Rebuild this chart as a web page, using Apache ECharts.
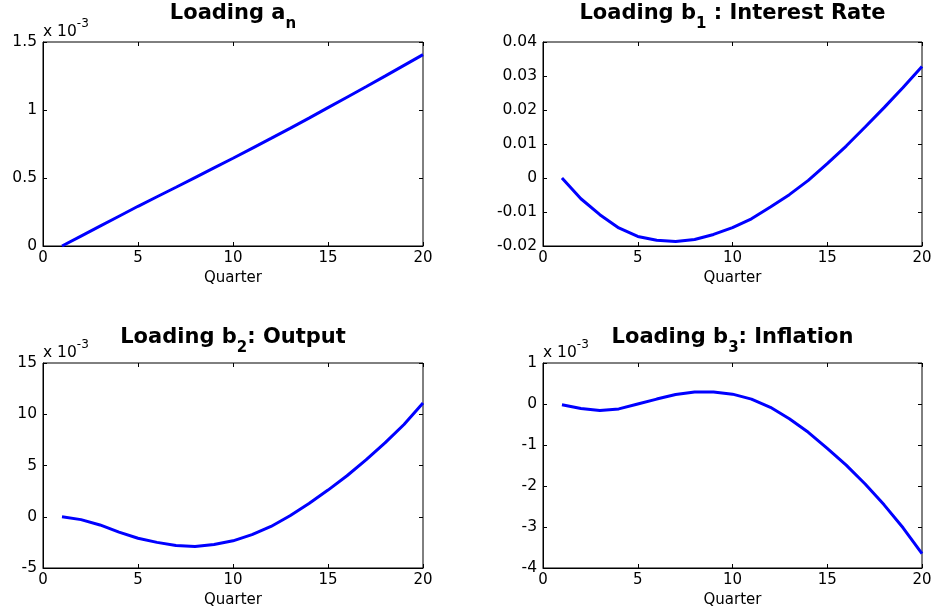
<!DOCTYPE html>
<html><head><meta charset="utf-8">
<script src="https://cdn.jsdelivr.net/npm/echarts@6/dist/echarts.min.js"></script>
<style>html,body{margin:0;padding:0;background:#fff}#c{width:935px;height:615px}</style>
</head><body><div id="c"></div>
<script>
// ---- data ----
const quarters = [1,2,3,4,5,6,7,8,9,10,11,12,13,14,15,16,17,18,19,20];
// Loading a_n (units of 10^-3)
const loadingA  = [0,0.073,0.146,0.219,0.292,0.362,0.432,0.503,0.574,0.645,0.718,0.791,0.865,0.940,1.017,1.094,1.171,1.249,1.328,1.407];
// Loading b1 : Interest Rate
const loadingB1 = [0,-0.0061,-0.0108,-0.0147,-0.0172,-0.0183,-0.0187,-0.0181,-0.0166,-0.0146,-0.0120,-0.0085,-0.0049,-0.0007,0.0042,0.0094,0.0150,0.0207,0.0266,0.0328];
// Loading b2 : Output (units of 10^-3)
const loadingB2 = [0,-0.28,-0.8,-1.5,-2.1,-2.5,-2.8,-2.9,-2.7,-2.35,-1.75,-0.95,0.1,1.3,2.6,4.0,5.55,7.2,9.0,11.1];
// Loading b3 : Inflation (units of 10^-3)
const loadingB3 = [-0.02,-0.11,-0.16,-0.12,0,0.12,0.23,0.29,0.29,0.24,0.12,-0.08,-0.36,-0.69,-1.08,-1.49,-1.95,-2.46,-3.02,-3.65];

const xRange = {min:0, max:20, interval:5};
const yRanges = [
  {min:0, max:1.5, interval:0.5},
  {min:-0.02, max:0.04, interval:0.01},
  {min:-5, max:15, interval:5},
  {min:-4, max:1, interval:1}
];
const titleMain = ['Loading a', 'Loading b', 'Loading b', 'Loading b'];
const titleSub  = ['n', '1', '2', '3'];
const titleRest = ['', ' : Interest Rate', ': Output', ': Inflation'];
const exponent  = [true, false, true, true];
const seriesData = [loadingA, loadingB1, loadingB2, loadingB3];

// ---- layout ----
const rects = [
  {left:43,  top:42,  width:380, height:204},
  {left:543, top:42,  width:379, height:204},
  {left:43,  top:363, width:380, height:205},
  {left:543, top:363, width:379, height:205}
];
const titleTops = [3, 3, 327, 327];
const FONT = 'DejaVu Sans';

const grids = [], xAxes = [], yAxes = [], series = [], titles = [];
rects.forEach((r, i) => {
  grids.push({left:r.left, top:r.top, width:r.width, height:r.height, show:true,
    borderColor:'#000', borderWidth:1, backgroundColor:'#fff'});
  const tickStyle = {show:true, inside:true, length:4, lineStyle:{color:'#000', width:1}};
  xAxes.push({type:'value', gridIndex:i, position:'bottom', min:xRange.min, max:xRange.max, interval:xRange.interval,
    axisLine:{show:true, onZero:false, lineStyle:{color:'#000', width:1}}, axisTick:tickStyle, splitLine:{show:false},
    axisLabel:{color:'#000', fontFamily:FONT, fontSize:15, margin:5},
    name:'Quarter', nameLocation:'middle', nameGap:25,
    nameTextStyle:{color:'#000', fontFamily:FONT, fontSize:15}});
  xAxes.push({type:'value', gridIndex:i, position:'top', min:xRange.min, max:xRange.max, interval:xRange.interval,
    axisLine:{show:false, onZero:false}, axisTick:tickStyle, axisLabel:{show:false}, splitLine:{show:false}});
  const yr = yRanges[i];
  const yMain = {type:'value', gridIndex:i, position:'left', min:yr.min, max:yr.max, interval:yr.interval,
    axisLine:{show:true, onZero:false, lineStyle:{color:'#000', width:1}}, axisTick:tickStyle, splitLine:{show:false},
    axisLabel:{color:'#000', fontFamily:FONT, fontSize:15.5, margin:6,
      formatter: v => String(parseFloat(v.toFixed(6)))}};
  if (exponent[i]) {
    yMain.name = '{b|x 10}{p|-3}';
    yMain.nameLocation = 'end';
    yMain.nameGap = 2;
    yMain.nameTextStyle = {align:'left', verticalAlign:'bottom', color:'#000',
      rich:{
        b:{fontFamily:FONT, fontSize:15.5, color:'#000', lineHeight:22, verticalAlign:'bottom'},
        p:{fontFamily:FONT, fontSize:12, color:'#000', lineHeight:10, verticalAlign:'top'}
      }};
  }
  yAxes.push(yMain);
  yAxes.push({type:'value', gridIndex:i, position:'right', min:yr.min, max:yr.max, interval:yr.interval,
    axisLine:{show:false, onZero:false}, axisTick:tickStyle, axisLabel:{show:false}, splitLine:{show:false}});
  series.push({type:'line', xAxisIndex:2*i, yAxisIndex:2*i,
    data: quarters.map((q, k) => [q, seriesData[i][k]]),
    showSymbol:false, symbol:'none', lineStyle:{color:'#0000ff', width:3}, silent:true, animation:false});
  titles.push({
    text: '{m|' + titleMain[i] + '}{s|' + titleSub[i] + '}' + (titleRest[i] ? '{m|' + titleRest[i] + '}' : ''),
    left: r.left + r.width / 2, top: titleTops[i], textAlign:'center', padding:0,
    textStyle:{rich:{
      m:{fontFamily:FONT, fontWeight:'bold', fontSize:21, color:'#000', verticalAlign:'top'},
      s:{fontFamily:FONT, fontWeight:'bold', fontSize:15, color:'#000', verticalAlign:'top', padding:[14,0,0,0]}
    }}
  });
});

const chart = echarts.init(document.getElementById('c'), null, {renderer:'canvas'});
chart.setOption({
  animation:false,
  backgroundColor:'#fff',
  title: titles,
  grid: grids,
  xAxis: xAxes,
  yAxis: yAxes,
  series: series
});
</script></body></html>
